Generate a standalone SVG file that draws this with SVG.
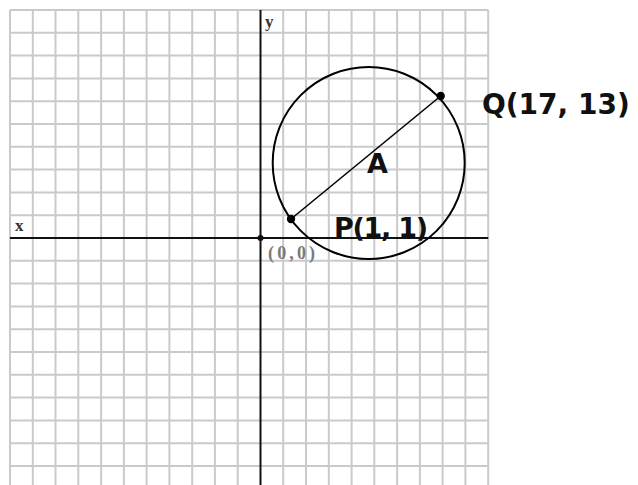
<svg xmlns="http://www.w3.org/2000/svg" width="638" height="485" viewBox="0 0 638 485">
<style>
.grid{stroke:#cacaca;stroke-width:2;fill:none}
.axis{stroke:#111;stroke-width:2;fill:none}
.lbl{font-family:"DejaVu Sans",Verdana,sans-serif;font-weight:bold;fill:#111}
.ax{font-family:"Liberation Serif","DejaVu Serif",serif;font-weight:bold;fill:#333;font-size:17px}
</style>
<rect width="638" height="485" fill="#fff"/>
<g id="grid" class="grid">
<path d="M10 10V485M32.8 10V485M55.5 10V485M78.3 10V485M101.1 10V485M123.9 10V485M146.6 10V485M169.4 10V485M192.2 10V485M214.9 10V485M237.7 10V485M283.2 10V485M306 10V485M328.8 10V485M351.6 10V485M374.3 10V485M397.1 10V485M419.9 10V485M442.6 10V485M465.4 10V485M488.2 10V485"/>
<path d="M10 10H488.2M10 32.8H488.2M10 55.6H488.2M10 78.4H488.2M10 101.2H488.2M10 124H488.2M10 146.8H488.2M10 169.6H488.2M10 192.4H488.2M10 215.2H488.2M10 260.8H488.2M10 283.6H488.2M10 306.4H488.2M10 329.2H488.2M10 352H488.2M10 374.8H488.2M10 397.6H488.2M10 420.4H488.2M10 443.2H488.2M10 466H488.2"/>
</g>
<g id="axes">
<path class="axis" d="M10 238H488.2M260.5 10V485"/>
<circle cx="260.5" cy="238" r="3" fill="#111"/>
<text class="ax" x="15" y="231">x</text>
<text class="ax" x="265" y="27">y</text>
<text x="268" y="259" font-family="Liberation Serif,serif" font-size="18" font-weight="bold" fill="#7a7a7a" textLength="47">(0,0)</text>
</g>
<g id="circle">
<circle cx="368.7" cy="163" r="96" fill="none" stroke="#000" stroke-width="2"/>
</g>
<g id="connectors">
<line x1="291" y1="219" x2="440.7" y2="96" stroke="#000" stroke-width="1.6"/>
</g>
<g id="node-P">
<circle cx="291" cy="219" r="4.2" fill="#000"/>
<text class="lbl" x="334" y="237" font-size="27" textLength="94">P(1, 1)</text>
</g>
<g id="node-Q">
<circle cx="440.7" cy="96" r="4.2" fill="#000"/>
<text class="lbl" x="482" y="114" font-size="28">Q(17, 13)</text>
</g>
<g id="node-A">
<text class="lbl" x="377.5" y="173" font-size="27" text-anchor="middle">A</text>
</g>
</svg>
